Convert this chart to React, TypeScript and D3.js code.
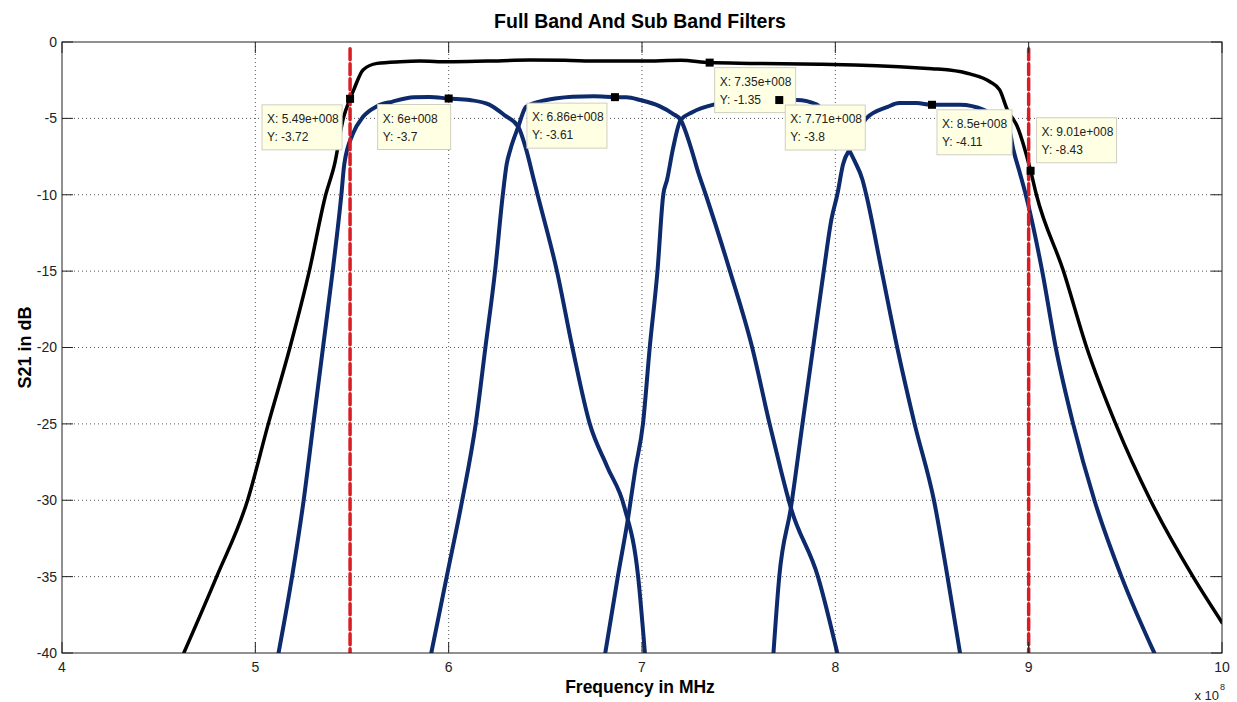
import * as d3 from "d3";

// frequency axis is in units of 1e8 Hz (matches the "x 10^8" axis multiplier)
const xTicks = [4, 5, 6, 7, 8, 9, 10];
const yTicks = [0, -5, -10, -15, -20, -25, -30, -35, -40];

const fullBandFreq = [
  4.63, 4.8, 4.96, 5.067, 5.179, 5.279, 5.364, 5.41, 5.455, 5.49, 5.51, 5.557, 5.63, 5.75,
  5.85, 6.0, 6.2, 6.42, 6.6, 6.78, 7.0, 7.2, 7.35, 7.56, 7.92, 8.1, 8.33, 8.5, 8.59, 8.7,
  8.8, 8.85, 8.89, 8.94, 9.01, 9.04, 9.18, 9.3, 9.45, 9.63, 9.85, 10.0,
];
const fullBandDb = [
  -40, -35, -30, -25, -20, -15, -10, -8, -5, -3.72, -3.1, -1.83, -1.4, -1.29,
  -1.25, -1.3, -1.25, -1.18, -1.2, -1.25, -1.25, -1.2, -1.35, -1.4, -1.45, -1.5, -1.62, -1.75, -1.83, -2.1,
  -2.6, -3.14, -4.45, -5.5, -8.43, -10, -15, -20, -25, -30, -35, -38,
];

const band1Freq = [
  5.12, 5.19, 5.25, 5.3, 5.35, 5.4, 5.445, 5.46, 5.505, 5.557, 5.63, 5.71, 5.82, 5.9, 6.0,
  6.11, 6.21, 6.29, 6.36, 6.4, 6.44, 6.46, 6.56, 6.64, 6.73, 6.82, 6.91, 6.98, 7.015,
];
const band1Db = [
  -40, -35, -30, -25, -20, -15, -10, -8, -6, -4.9, -4.2, -3.9, -3.62, -3.6, -3.7,
  -3.8, -4.1, -4.8, -5.55, -7.0, -9, -10, -15, -20, -25, -27.8, -30.5, -35, -40,
];

const band2Freq = [
  5.91, 5.99, 6.07, 6.14, 6.19, 6.24, 6.28, 6.3, 6.32, 6.36, 6.4, 6.47, 6.55, 6.64, 6.75,
  6.86, 6.92, 6.99, 7.09, 7.16, 7.2, 7.25, 7.29, 7.33, 7.455, 7.57, 7.66, 7.71, 7.77, 7.91, 8.01,
];
const band2Db = [
  -40, -35, -30, -25, -20, -15, -10, -8, -7, -5.55, -4.25, -3.9, -3.7, -3.58, -3.55,
  -3.61, -3.62, -3.8, -4.2, -4.7, -5.1, -6.8, -8.5, -10, -15, -20, -25, -27.6, -30.5, -35, -40,
];

const band3Freq = [
  6.81, 6.875, 6.93, 6.965, 7.005, 7.04, 7.08, 7.11, 7.13, 7.16, 7.2, 7.26, 7.37, 7.5, 7.6,
  7.71, 7.8, 7.905, 7.94, 8.0, 8.06, 8.1, 8.14, 8.16, 8.24, 8.32, 8.41, 8.51, 8.58, 8.645,
];
const band3Db = [
  -40, -35, -31, -28, -25, -20, -15, -10, -9, -7, -5.1, -4.6, -4.1, -3.9, -3.8,
  -3.8, -3.8, -4.1, -4.6, -5.5, -6.8, -7.8, -9, -10, -15, -20, -25, -30, -35, -40,
];

const band4Freq = [
  7.68, 7.71, 7.77, 7.83, 7.885, 7.94, 7.98, 8.01, 8.04, 8.08, 8.16, 8.27, 8.33, 8.42, 8.5,
  8.645, 8.77, 8.82, 8.9, 8.92, 8.955, 8.985, 9.07, 9.14, 9.23, 9.34, 9.48, 9.65,
];
const band4Db = [
  -40, -35, -30.5, -25, -20, -15, -11.6, -10, -8, -6.9, -5.0, -4.25, -4.0, -4.0, -4.11,
  -4.1, -4.45, -4.9, -5.8, -7.0, -8.6, -10, -15, -20, -25, -30, -35, -40,
];

const cutoffFreq = [5.49, 9.0];

const tipFreq = [5.49, 6.0, 6.86, 7.35, 7.71, 8.5, 9.01];
const tipDb = [-3.72, -3.7, -3.61, -1.35, -3.8, -4.11, -8.43];
const tipTextX = [
  "X: 5.49e+008", "X: 6e+008", "X: 6.86e+008", "X: 7.35e+008",
  "X: 7.71e+008", "X: 8.5e+008", "X: 9.01e+008",
];
const tipTextY = ["Y: -3.72", "Y: -3.7", "Y: -3.61", "Y: -1.35", "Y: -3.8", "Y: -4.11", "Y: -8.43"];

// datatip box placement relative to its marker: [dx, dy, width]
const tipBox = [
  [-88, 6, 80], [-71, 6, 73], [-88, 6, 80], [5, 5, 81], [6, 5, 80], [5, 5, 75], [6, -53, 80],
];

const W = 1237;
const H = 702;
const margin = { top: 42, right: 15, bottom: 49, left: 62 };
const FONT = "'Liberation Sans', Arial, Helvetica, sans-serif";

export default function App() {
  const x = d3.scaleLinear().domain([4, 10]).range([margin.left, W - margin.right]);
  const y = d3.scaleLinear().domain([-40, 0]).range([H - margin.bottom, margin.top]);
  const [x0, x1] = x.range();
  const [y0, y1] = [y(0), y(-40)];

  const line = d3
    .line<[number, number]>()
    .x((d) => x(d[0]))
    .y((d) => y(d[1]))
    .curve(d3.curveMonotoneX);

  const zip = (f: number[], v: number[]) => f.map((d, i) => [d, v[i]] as [number, number]);
  const bands = [
    zip(band1Freq, band1Db),
    zip(band2Freq, band2Db),
    zip(band3Freq, band3Db),
    zip(band4Freq, band4Db),
  ];
  const tick = 11;

  return (
    <div style={{ position: "absolute", left: 0, top: 0 }}>
      <style>{"body{margin:0}"}</style>
      <svg width={W} height={H} style={{ display: "block", background: "#fff" }} fontFamily={FONT}>
        <defs>
          <clipPath id="plot-clip">
            <rect x={x0} y={y0} width={x1 - x0} height={y1 - y0} />
          </clipPath>
        </defs>

        {/* grid */}
        {xTicks.slice(1, -1).map((t) => (
          <line key={"gx" + t} x1={x(t)} x2={x(t)} y1={y0} y2={y1} stroke="#555" strokeWidth={1} strokeDasharray="1,3" />
        ))}
        {yTicks.slice(1, -1).map((t) => (
          <line key={"gy" + t} x1={x0} x2={x1} y1={y(t)} y2={y(t)} stroke="#555" strokeWidth={1} strokeDasharray="1,3" />
        ))}

        {/* curves */}
        <g clipPath="url(#plot-clip)" fill="none" strokeLinejoin="round" strokeLinecap="round">
          <path d={line(zip(fullBandFreq, fullBandDb)) ?? ""} stroke="#000" strokeWidth={3.5} />
          {bands.map((b, i) => (
            <path key={i} d={line(b) ?? ""} stroke="#0c2a6c" strokeWidth={4} />
          ))}
          {cutoffFreq.map((f) => (
            <line key={f} x1={x(f)} x2={x(f)} y1={y(-0.45)} y2={y(-40)} stroke="#d81e24" strokeWidth={3.5} strokeDasharray="11,4" />
          ))}
        </g>

        {/* axes box and ticks */}
        <rect x={x0} y={y0} width={x1 - x0} height={y1 - y0} fill="none" stroke="#222" strokeWidth={1} />
        {xTicks.map((t) => (
          <g key={"tx" + t}>
            <line x1={x(t)} x2={x(t)} y1={y1} y2={y1 - tick} stroke="#222" />
            <line x1={x(t)} x2={x(t)} y1={y0} y2={y0 + tick} stroke="#222" />
            <text x={x(t)} y={y1 + 19} fontSize={14} textAnchor="middle" fill="#222">{t}</text>
          </g>
        ))}
        {yTicks.map((t) => (
          <g key={"ty" + t}>
            <line x1={x0} x2={x0 + tick} y1={y(t)} y2={y(t)} stroke="#222" />
            <line x1={x1} x2={x1 - tick} y1={y(t)} y2={y(t)} stroke="#222" />
            <text x={x0 - 5} y={y(t)} dy="0.35em" fontSize={14} textAnchor="end" fill="#222">{t}</text>
          </g>
        ))}
        <text x={x1 - 3} y={700} fontSize={13} textAnchor="end" fill="#222">x 10</text>
        <text x={x1 - 2} y={690} fontSize={9} fill="#222">8</text>

        {/* labels */}
        <text x={640} y={28} fontSize={19.5} fontWeight="bold" textAnchor="middle" fill="#000">
          Full Band And Sub Band Filters
        </text>
        <text x={640} y={693} fontSize={17.5} fontWeight="bold" textAnchor="middle" fill="#000">
          Frequency in MHz
        </text>
        <text transform={`translate(31,${(y0 + y1) / 2}) rotate(-90)`} fontSize={18} fontWeight="bold" textAnchor="middle" fill="#000">
          S21 in dB
        </text>

        {/* data tips */}
        {tipFreq.map((f, i) => {
          const mx = x(f);
          const my = y(tipDb[i]);
          const [dx, dy, bw] = tipBox[i];
          return (
            <g key={"tip" + i}>
              <rect x={mx + dx} y={my + dy} width={bw} height={45} fill="#ffffe4" stroke="#cfcfc0" strokeWidth={1} />
              <text x={mx + dx + 5} y={my + dy + 18} fontSize={12} fill="#222">{tipTextX[i]}</text>
              <text x={mx + dx + 5} y={my + dy + 36} fontSize={12} fill="#222">{tipTextY[i]}</text>
            </g>
          );
        })}
        {tipFreq.map((f, i) => (
          <rect key={"m" + i} x={x(f) - 4} y={y(tipDb[i]) - 4} width={8} height={8} fill="#000" />
        ))}
      </svg>
    </div>
  );
}
